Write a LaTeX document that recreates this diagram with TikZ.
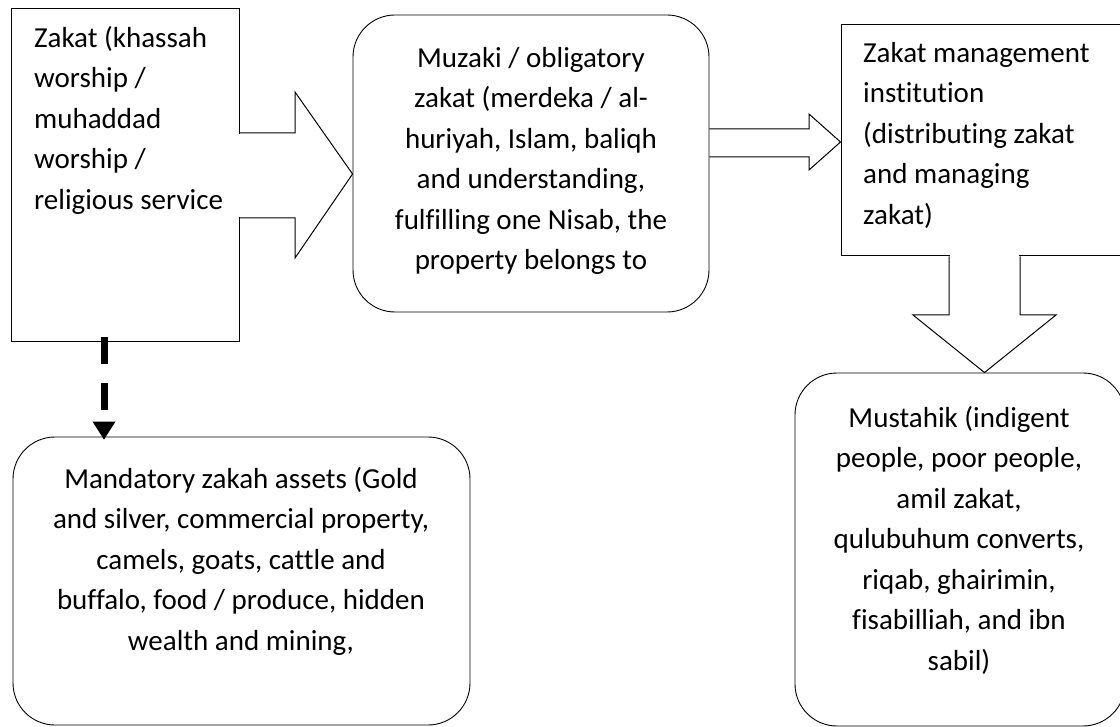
\documentclass[tikz,border=0pt]{standalone}
\usepackage{fontspec}
\setmainfont[Ligatures=CommonOff]{Carlito}
\usetikzlibrary{calc,arrows.meta}

\begin{document}
\begin{tikzpicture}[x=1pt,y=-1pt,
  every node/.style={inner sep=0pt},
  txt/.style={font=\fontsize{29}{40.5}\selectfont},
  sqbox/.style={draw,line width=1pt},
  rbox/.style={draw,line width=0.9pt,rounded corners=42pt}]
  \useasboundingbox (0,0) rectangle (1120,727);
  % boxes
  \node[sqbox,minimum width=228pt,minimum height=333pt] (zakat) at (125,175.5) {};
  \node[rbox,minimum width=356pt,minimum height=297pt] (muzaki) at (531,163.5) {};
  \node[sqbox,minimum width=300pt,minimum height=231pt] (lembaga) at (991,140.5) {};
  \node[rbox,minimum width=330pt,minimum height=353pt] (mustahik) at (960,549.5) {};
  \node[rbox,minimum width=457pt,minimum height=288pt] (harta) at (241.5,581) {};
  % texts
  \node[txt,align=left,anchor=north west] (zakat-txt) at (34,26) {Zakat (khassah\\worship /\\muhaddad\\worship /\\religious service};
  \node[txt,align=center,anchor=north] (muzaki-txt) at (531,47) {Muzaki / obligatory\\zakat (merdeka / al-\\huriyah, Islam, baliqh\\and understanding,\\fulfilling one Nisab, the\\property belongs to};
  \node[txt,align=left,anchor=north west] (lembaga-txt) at (863,42) {Zakat management\\institution\\(distributing zakat\\and managing\\zakat)};
  \node[txt,align=center,anchor=north] (mustahik-txt) at (959,406) {Mustahik (indigent\\people, poor people,\\amil zakat,\\qulubuhum converts,\\riqab, ghairimin,\\fisabilliah, and ibn\\sabil)};
  \node[txt,align=center,anchor=north] (harta-txt) at (241,467) {Mandatory zakah assets (Gold\\and silver, commercial property,\\camels, goats, cattle and\\buffalo, food / produce, hidden\\wealth and mining,};
  % block arrows
  \fill[white] ($(zakat.east |- 0,134)+(-2,0)$) rectangle ($(zakat.east |- 0,217)+(2,0)$);
  \draw[line width=1pt] (zakat.east |- 0,133) -- (295,133) -- (295,92) -- (muzaki.west |- 0,174)
    -- (295,258) -- (295,218) -- (zakat.east |- 0,218);
  \draw[line width=1pt] (muzaki.east |- 0,129) -- (809,129) -- (809,114) -- (lembaga.west |- 0,142)
    -- (809,170) -- (809,157) -- (muzaki.east |- 0,157);
  \fill[white] ($(lembaga.south -| 950,0)+(0,-2)$) rectangle ($(lembaga.south -| 1019,0)+(0,2)$);
  \draw[line width=1pt] (lembaga.south -| 949,0) -- (949,315) -- (913,315) -- (mustahik.north -| 984.5,0)
    -- (1056,315) -- (1020,315) -- (lembaga.south -| 1020,0);
  % dashed link
  \draw[line width=7pt,dash pattern=on 27pt off 19pt,-{Triangle[width=23pt,length=18pt,line width=0pt]}]
    ($(zakat.south -| 104,0)+(0,-5)$) -- ($(harta.north -| 104,0)+(0,3)$);
\end{tikzpicture}
\end{document}
